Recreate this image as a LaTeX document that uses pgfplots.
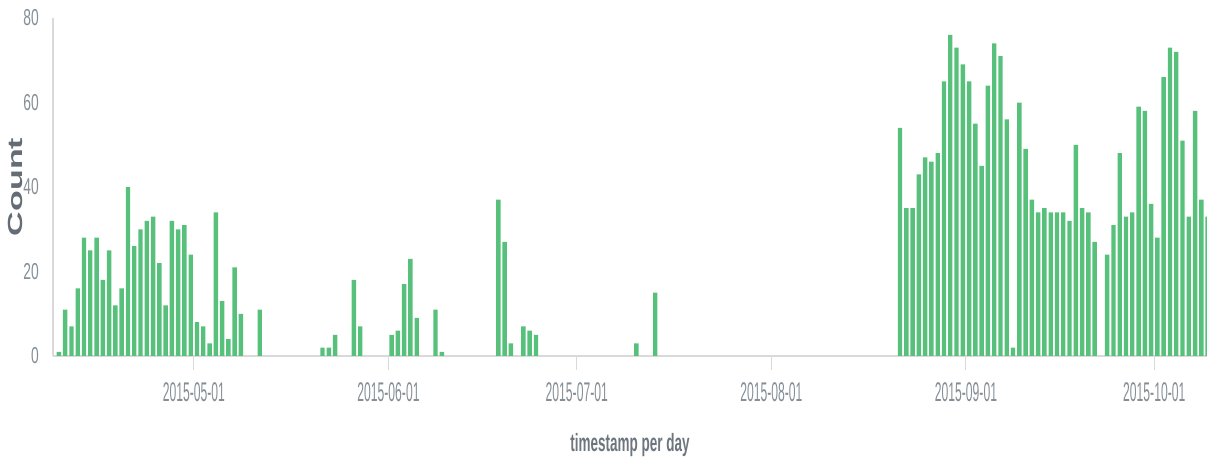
\documentclass[border=0pt]{standalone}
\usepackage{fontspec}
\usepackage{graphicx}
\usepackage{pgfplots}
\pgfplotsset{compat=1.18}
\setmainfont{Liberation Sans}
\newfontfamily\xtickfont{Liberation Sans}[FakeStretch=0.45]
\newfontfamily\ytickfont{Liberation Sans}[FakeStretch=0.6]
\newfontfamily\xlabfont{Liberation Sans}[FakeStretch=0.54]
\definecolor{bargreen}{HTML}{57C17B}
\definecolor{axisgray}{HTML}{D9D9D9}
\definecolor{ticktext}{HTML}{848E96}
\definecolor{labeltext}{HTML}{6D767E}
\definecolor{ylabtext}{HTML}{646D75}
\begin{document}
\begin{tikzpicture}
\useasboundingbox (0,0) rectangle (1207bp,467bp);
\begin{axis}[
  at={(53bp,111bp)}, anchor=south west,
  scale only axis, width=1154bp, height=338bp,
  xmin=-0.94, xmax=182.9, ymin=0, ymax=80,
  axis x line*=bottom, axis y line*=left,
  axis line style={axisgray, line width=1.5bp},
  tick align=outside,
  major tick length=14bp,
  minor tick length=6bp,
  /pgf/number format/assume math mode=true,
  xtick={21.5,52.5,82.5,113.5,144.5,174.5},
  xticklabels={2015-05-01,2015-06-01,2015-07-01,2015-08-01,2015-09-01,2015-10-01},
  ytick={0,20,40,60,80},
  minor ytick={0,20,40,60,80},
  xtick style={axisgray, line width=1bp},
  ytick style={draw=none},
  minor y tick style={axisgray, line width=1bp},
  xticklabel style={font=\xtickfont\fontsize{27bp}{29bp}\selectfont, text=ticktext, inner sep=0pt, anchor=north, yshift=-12bp},
  yticklabel style={font=\ytickfont\fontsize{23bp}{25bp}\selectfont, text=ticktext, inner sep=0pt, anchor=east},
  xlabel={timestamp per day},
  xlabel style={at={(axis description cs:0.5,-0.284)}, anchor=base, font=\xlabfont\bfseries\fontsize{25bp}{27bp}\selectfont, text=labeltext},
  ylabel={\scalebox{1}[0.6]{Count}},
  ylabel style={at={(axis description cs:-0.0325,0.5)}, anchor=center, font=\bfseries\fontsize{34bp}{36bp}\selectfont, text=ylabtext},
]
\addplot[ybar, bar width=0.7, fill=bargreen, draw=none] coordinates {
(0,1) (1,11) (2,7) (3,16) (4,28) (5,25) (6,28) (7,18) (8,25) (9,12)
(10,16) (11,40) (12,26) (13,30) (14,32) (15,33) (16,22) (17,12) (18,32) (19,30)
(20,31) (21,24) (22,8) (23,7) (24,3) (25,34) (26,13) (27,4) (28,21) (29,10)
(32,11)
(42,2) (43,2) (44,5) (47,18) (48,7) (53,5) (54,6) (55,17) (56,23) (57,9)
(60,11) (61,1)
(70,37) (71,27) (72,3) (74,7) (75,6) (76,5) (92,3) (95,15)
(134,54) (135,35) (136,35) (137,43) (138,47) (139,46) (140,48) (141,65) (142,76) (143,73)
(144,69) (145,65) (146,55) (147,45) (148,64) (149,74) (150,71) (151,56) (152,2) (153,60)
(154,49) (155,37) (156,34) (157,35) (158,34) (159,34) (160,34) (161,32) (162,50) (163,35)
(164,34) (165,27) (167,24) (168,31) (169,48) (170,33) (171,34) (172,59) (173,58) (174,36)
(175,28) (176,66) (177,73) (178,72) (179,51) (180,33) (181,58) (182,37) (183,33)
};
\end{axis}
\end{tikzpicture}
\end{document}
